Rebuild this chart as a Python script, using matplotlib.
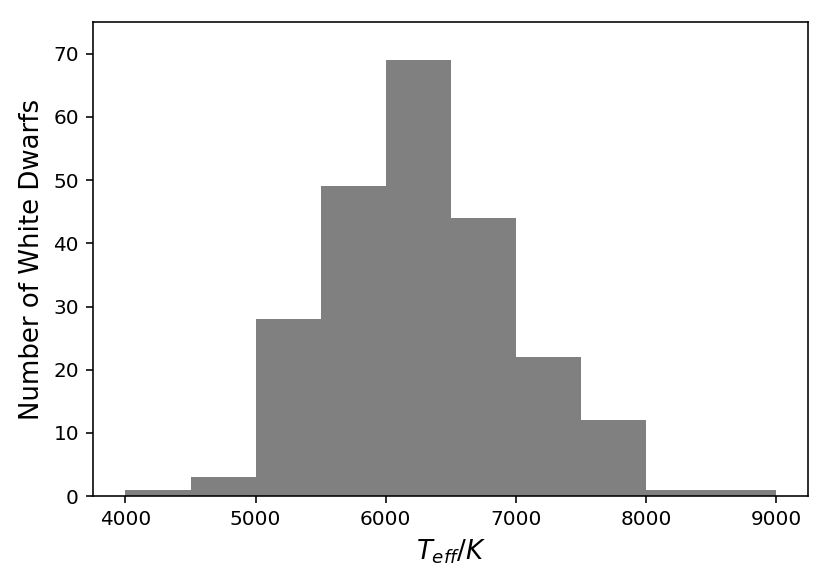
import numpy as np
import matplotlib
matplotlib.use("Agg")
import matplotlib.pyplot as plt

# histogram bins and counts
bin_edges = [4000, 4500, 5000, 5500, 6000, 6500, 7000, 7500, 8000, 8500, 9000]
counts = [1, 3, 28, 49, 69, 44, 22, 12, 1, 1]

dpi = 144
fig = plt.figure(figsize=(830 / dpi, 583 / dpi), dpi=dpi)
ax = fig.add_axes([0.112, 0.149, 0.862, 0.813])

ax.hist(bin_edges[:-1], bins=bin_edges, weights=counts, color='grey')

ax.set_ylim(0, 75)
ax.set_xlabel(r'$T_{eff}/K$', fontsize=13)
ax.set_ylabel('Number of White Dwarfs', fontsize=13)
ax.tick_params(labelsize=10)

fig.savefig('out.png', dpi=dpi)
